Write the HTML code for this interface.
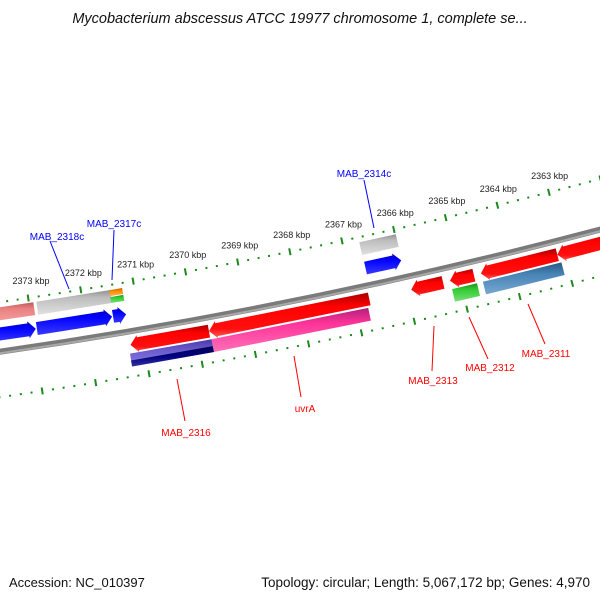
<!DOCTYPE html>
<html><head><meta charset="utf-8"><style>
html,body{margin:0;padding:0;background:#fff;}
svg{display:block;font-family:"Liberation Sans",sans-serif;}
</style></head><body>
<svg id="map" width="600" height="600" viewBox="0 0 600 600" xmlns="http://www.w3.org/2000/svg">
<defs>
<linearGradient id="gRed" x1="0" y1="0" x2="0" y2="1"><stop offset="0" stop-color="#a80000"/><stop offset="0.3" stop-color="#ff0000"/><stop offset="0.8" stop-color="#ff1010"/><stop offset="1" stop-color="#ff6060"/></linearGradient>
<linearGradient id="gGrey" x1="0" y1="0" x2="0" y2="1"><stop offset="0" stop-color="#909090"/><stop offset="0.3" stop-color="#bdbdbd"/><stop offset="1" stop-color="#e0e0e0"/></linearGradient>
<linearGradient id="gBlue" x1="0" y1="0" x2="0" y2="1"><stop offset="0" stop-color="#0000b0"/><stop offset="0.3" stop-color="#0000ff"/><stop offset="1" stop-color="#3a3aff"/></linearGradient>
<linearGradient id="gPink" x1="0" y1="0" x2="0" y2="1"><stop offset="0" stop-color="#b85a5a"/><stop offset="0.3" stop-color="#ea8080"/><stop offset="1" stop-color="#f4a0a0"/></linearGradient>
<linearGradient id="gMag" x1="0" y1="0" x2="0" y2="1"><stop offset="0" stop-color="#b0207a"/><stop offset="0.35" stop-color="#ff3399"/><stop offset="1" stop-color="#ff70b8"/></linearGradient>
<linearGradient id="gSteel" x1="0" y1="0" x2="0" y2="1"><stop offset="0" stop-color="#2a5680"/><stop offset="0.35" stop-color="#4682b4"/><stop offset="1" stop-color="#78a8d2"/></linearGradient>
<linearGradient id="gGreen" x1="0" y1="0" x2="0" y2="1"><stop offset="0" stop-color="#1f8f1f"/><stop offset="0.35" stop-color="#33cc33"/><stop offset="1" stop-color="#77e077"/></linearGradient>
<linearGradient id="gOrange" x1="0" y1="0" x2="0" y2="1"><stop offset="0" stop-color="#c06000"/><stop offset="0.4" stop-color="#ff8c00"/><stop offset="1" stop-color="#ffb050"/></linearGradient>
<linearGradient id="gSlate" x1="0" y1="0" x2="0" y2="1"><stop offset="0" stop-color="#4a3aa8"/><stop offset="0.4" stop-color="#6a5acd"/><stop offset="1" stop-color="#8c80e0"/></linearGradient>
<linearGradient id="gNavy" x1="0" y1="0" x2="0" y2="1"><stop offset="0" stop-color="#000050"/><stop offset="0.5" stop-color="#000080"/><stop offset="1" stop-color="#3030a0"/></linearGradient>
</defs>
<text x="300" y="23" text-anchor="middle" font-size="14.5" font-style="italic" fill="#111">Mycobacterium abscessus ATCC 19977 chromosome 1, complete se...</text>
<g id="ticks"></g>
<g id="backbone"></g>
<g id="features"></g>
<g id="labels"></g>
<text x="9" y="587" font-size="13" fill="#111">Accession: NC_010397</text>
<text x="590" y="587" text-anchor="end" font-size="13.5" fill="#111">Topology: circular; Length: 5,067,172 bp; Genes: 4,970</text>
</svg>
<script>
// ---- data ----
const tickMajors = [2363000,2364000,2365000,2366000,2367000,2368000,2369000,2370000,2371000,2372000,2373000];
const tickLabels = ["2363 kbp","2364 kbp","2365 kbp","2366 kbp","2367 kbp","2368 kbp","2369 kbp","2370 kbp","2371 kbp","2372 kbp","2373 kbp"];
const featStart = [2372918,2371455,2371227,2365983,2372945,2371500,2371235,2365991,2369768,2366728,2365322,2364733,2363137,2361940,2369747,2366783,2364712,2363097,2371227];
const featEnd   = [2373925,2372860,2371474,2366686,2373990,2372925,2371482,2366675,2371250,2369768,2365930,2365189,2364600,2363137,2371286,2369747,2365187,2364598,2371474];
const featRow   = ["G1","G1","G1a","G1","G2","G2","G2","G2","R1","R1","R1","R1","R1","R1","R2","R2","R2","R2","G1b"];
const featStrand= [0,0,0,0,-1,-1,-1,-1,1,1,1,1,1,1,0,0,0,0,0];
const featColor = ["gPink","gGrey","gOrange","gGrey","gBlue","gBlue","gBlue","gBlue","gRed","gRed","gRed","gRed","gRed","gRed","gSlate","gMag","gGreen","gSteel","gGreen"];
const featName  = ["feature-pink","feature-grey-mab2318c","feature-orange","feature-grey-mab2314c","gene-blue-left","gene-mab2318c","gene-mab2317c","gene-mab2314c","gene-mab2316","gene-uvra","gene-mab2313","gene-mab2312","gene-mab2311","gene-red-right","feature-mab2316-cds","feature-uvra-cds","feature-mab2312-cds","feature-mab2311-cds","feature-green"];
// ---- geometry ----
const CX=-758, CY=-4911, R=5317, A0=0.1498, K=1.009e-5;
const rows={G1:[R-44,R-31],G1a:[R-44,R-38],G1b:[R-37,R-31],G2:[R-24,R-11],R1:[R+7,R+20],R2:[R+22,R+35]};
function ang(bp){return A0+(2373000-bp)*K;}
function P(bp,r){const a=ang(bp);return [CX+r*Math.sin(a),CY+r*Math.cos(a)];}
const NS="http://www.w3.org/2000/svg";
function mk(tag,parent){const e=document.createElementNS(NS,tag);parent.appendChild(e);return e;}
// ticks
const tg=document.getElementById('ticks');
const rIn=R-49, rOut=R+45;
for(let bp=2361800;bp<=2374400;bp+=200){
  const major=(bp%1000===0);
  [rIn,rOut].forEach(rr=>{
    const h=major?3.5:1;
    const p1=P(bp,rr-h),p2=P(bp,rr+h);
    const l=mk('line',tg);
    
    
    l.setAttribute('x1',p1[0]);l.setAttribute('y1',p1[1]);l.setAttribute('x2',p2[0]);l.setAttribute('y2',p2[1]);
    l.setAttribute('stroke','#1a8a1a');l.setAttribute('stroke-width','2');
  });
}
tickMajors.forEach((bp,i)=>{
  const p=P(bp,rIn-21);
  const t=mk('text',tg);
  
  
  t.setAttribute('x',p[0]+6);t.setAttribute('y',p[1]+7);
  t.setAttribute('text-anchor','middle');t.setAttribute('font-size','9');t.setAttribute('fill','#222');
  t.textContent=tickLabels[i];
});
// backbone
const bg=document.getElementById('backbone');
function arcPath(r,b1,b2){const p1=P(b1,r),p2=P(b2,r);return `M${p1[0]},${p1[1]} A${r},${r} 0 0 0 ${p2[0]},${p2[1]}`;}
const bb=mk('path',bg);


bb.setAttribute('d',arcPath(R,2374500,2361500));bb.setAttribute('stroke','#7a7a7a');bb.setAttribute('stroke-width','6');bb.setAttribute('fill','none');
const bb2=mk('path',bg);


bb2.setAttribute('d',arcPath(R+1.5,2374500,2361500));bb2.setAttribute('stroke','#a8a8a8');bb2.setAttribute('stroke-width','2');bb2.setAttribute('fill','none');
// features
const fg=document.getElementById('features');
const HEAD=140;
featStart.forEach((s,i)=>{
  const e=featEnd[i], rr=rows[featRow[i]], r1=rr[0], r2=rr[1], rm=(r1+r2)/2, st=featStrand[i];
  let pts;
  if(st===1){
    const h=Math.min(HEAD,(e-s)*0.6);
    pts=[P(s,r1),P(e-h,r1),P(e-h,r1-2),P(e,rm),P(e-h,r2+2),P(e-h,r2),P(s,r2)];
  } else if(st===-1){
    const h=Math.min(HEAD,(e-s)*0.6);
    pts=[P(e,r1),P(s+h,r1),P(s+h,r1-2),P(s,rm),P(s+h,r2+2),P(s+h,r2),P(e,r2)];
  } else {
    pts=[P(s,r1),P(e,r1),P(e,r2),P(s,r2)];
  }
  const pg=mk('polygon',fg);
  
  
  pg.setAttribute('points',pts.map(p=>p[0].toFixed(1)+','+p[1].toFixed(1)).join(' '));
  pg.setAttribute('fill','url(#'+featColor[i]+')');
  if(featName[i]==='feature-mab2316-cds'){
    const p2=[P(s,R+29),P(e,R+29),P(e,R+35),P(s,R+35)];
    const nv=mk('polygon',fg);
    
    
    nv.setAttribute('points',p2.map(p=>p[0].toFixed(1)+','+p[1].toFixed(1)).join(' '));
    nv.setAttribute('fill','url(#gNavy)');
  }
});
// labels
const lg=document.getElementById('labels');
const labText=["MAB_2318c","MAB_2317c","MAB_2314c","MAB_2316","uvrA","MAB_2313","MAB_2312","MAB_2311"];
const labColor=["#0000ff","#0000ff","#0000ff","#ff0000","#ff0000","#ff0000","#ff0000","#ff0000"];
const labX=[57,114,364,186,305,433,490,546];
const labY=[240,227,177,436,412,384,371,357];
const lineA=[[50,241],[114,230],[364,180],[177,379],[294,356],[434,326],[469,317],[528,304]];
const lineB=[[69,289],[112,280],[374,228],[185,421],[301,397],[432,371],[488,359],[545,344]];
labText.forEach((s,i)=>{
  const l=mk('line',lg);
  
  
  l.setAttribute('x1',lineA[i][0]);l.setAttribute('y1',lineA[i][1]);l.setAttribute('x2',lineB[i][0]);l.setAttribute('y2',lineB[i][1]);
  l.setAttribute('stroke',labColor[i]);l.setAttribute('stroke-width','1');
  const t=mk('text',lg);
  
  
  t.setAttribute('x',labX[i]);t.setAttribute('y',labY[i]);t.setAttribute('text-anchor','middle');
  t.setAttribute('font-size','10');t.setAttribute('fill',labColor[i]);
  t.textContent=s;
});
</script>
</body></html>
